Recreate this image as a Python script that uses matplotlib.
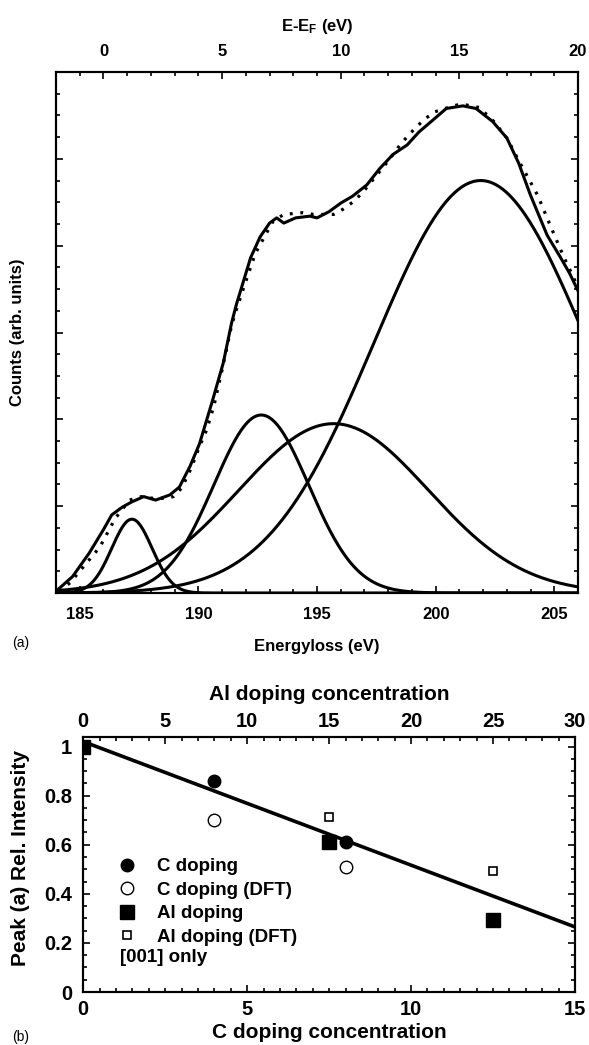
import numpy as np
import matplotlib
matplotlib.use('Agg')
import matplotlib.pyplot as plt
from matplotlib.ticker import MultipleLocator, NullFormatter, FormatStrFormatter
from matplotlib.lines import Line2D

plt.rcParams['font.family'] = ['Liberation Sans', 'DejaVu Sans']
plt.rcParams['font.weight'] = 'bold'
plt.rcParams['axes.labelweight'] = 'bold'
plt.rcParams['mathtext.default'] = 'regular'

# (a) EELS spectrum: measured curve (solid) and fit sum (dotted)
solid_x = [184.0, 184.7, 185.4, 186.0, 186.35, 186.8, 187.2, 187.7, 188.2, 188.8,
           189.2, 189.65, 190.05, 190.6, 191.05, 191.4, 191.6, 191.9, 192.2, 192.6,
           193.0, 193.3, 193.6, 194.1, 194.7, 195.0, 195.5, 196.0, 196.5, 197.1,
           197.65, 198.2, 198.8, 199.3, 199.9, 200.45, 201.15, 201.7, 202.4, 203.0,
           203.5, 204.0, 204.7, 205.25, 205.65, 206.0]
solid_y = [0.02, 0.19, 0.46, 0.73, 0.90, 0.99, 1.05, 1.11, 1.07, 1.13,
           1.22, 1.46, 1.72, 2.22, 2.65, 3.11, 3.32, 3.59, 3.86, 4.10,
           4.26, 4.32, 4.26, 4.32, 4.34, 4.32, 4.39, 4.49, 4.57, 4.70,
           4.89, 5.05, 5.16, 5.31, 5.45, 5.58, 5.61, 5.58, 5.43, 5.24,
           4.95, 4.58, 4.12, 3.87, 3.68, 3.48]
dot_x = [184.15, 184.6, 185.15, 185.85, 186.3, 186.5, 187.1, 187.6, 188.1, 188.5,
         188.95, 189.3, 189.7, 190.05, 190.35, 190.65, 191.0, 191.4, 191.55, 191.95,
         192.4, 192.9, 193.15, 193.6, 194.4, 194.85, 195.7, 196.1, 196.55, 196.95,
         197.3, 197.75, 198.1, 198.5, 198.85, 199.2, 199.55, 199.95, 200.4, 200.9,
         201.3, 201.85, 202.45, 203.0, 203.6, 204.3, 204.85, 205.4, 205.8, 206.0]
dot_y = [0.02, 0.12, 0.30, 0.53, 0.76, 0.86, 1.07, 1.11, 1.09, 1.09,
         1.11, 1.21, 1.44, 1.69, 1.88, 2.15, 2.57, 3.08, 3.22, 3.55,
         3.91, 4.16, 4.28, 4.36, 4.38, 4.36, 4.36, 4.42, 4.51, 4.62,
         4.74, 4.89, 5.01, 5.16, 5.27, 5.37, 5.46, 5.54, 5.58, 5.62,
         5.62, 5.59, 5.43, 5.24, 4.93, 4.58, 4.22, 3.87, 3.64, 3.51]
# gaussian fit components (center, height, width)
peak_center = [187.2, 192.65, 195.7, 201.9]
peak_height = [0.85, 2.05, 1.95, 4.75]
peak_sigma = [0.85, 2.0, 4.0, 4.5]

# (b) peak (a) relative intensity vs doping
c_dop_x = [4, 8]
c_dop_y = [0.86, 0.61]
c_dft_x = [4, 8]
c_dft_y = [0.70, 0.51]
al_dop_x = [0, 15, 25]      # Al concentration (top axis)
al_dop_y = [1.0, 0.61, 0.293]
al_dft_x = [15, 25]
al_dft_y = [0.714, 0.493]
fit_x = [0, 15]
fit_y = [1.02, 0.265]

fig = plt.figure(figsize=(5.89, 10.45), dpi=100)

def style_ticks(ax, size, pad, **kw):
    ax.tick_params(which='both', direction='in', width=1.2, pad=pad, labelsize=size, **kw)
    ax.tick_params(which='major', length=5)
    ax.tick_params(which='minor', length=3)
    for s in ax.spines.values():
        s.set_linewidth(1.5)

# ---------- panel (a) ----------
ax1 = fig.add_axes([56/589, 1-593/1045, 522/589, 521/1045])
E = np.linspace(184, 206, 500)
for c, h, s in zip(peak_center, peak_height, peak_sigma):
    ax1.plot(E, h*np.exp(-(E-c)**2/(2*s**2)), color='black', lw=2.2)
ax1.plot(dot_x, dot_y, color='black', lw=2.3, ls=(0, (0.9, 2.4)))
ax1.plot(solid_x, solid_y, color='black', lw=2.2)
ax1.set_xlim(184, 206)
ax1.set_ylim(0, 6)
ax1.xaxis.set_major_locator(MultipleLocator(5))
ax1.xaxis.set_minor_locator(MultipleLocator(1))
ax1.yaxis.set_major_locator(MultipleLocator(1))
ax1.yaxis.set_minor_locator(MultipleLocator(0.25))
ax1.yaxis.set_major_formatter(NullFormatter())
style_ticks(ax1, 12, 10, left=True, right=True, top=False)
ax1.set_xlabel('Energyloss (eV)', fontsize=12, va='center')
ax1.xaxis.set_label_coords(0.5, (593-647)/521)
ax1.set_ylabel('Counts (arb. units)', fontsize=12, va='center')
ax1.yaxis.set_label_coords((18-56)/522, 0.5)

ax1t = ax1.twiny()
ax1t.set_xlim(-2, 20)
ax1t.xaxis.set_major_locator(MultipleLocator(5))
ax1t.xaxis.set_minor_locator(MultipleLocator(1))
style_ticks(ax1t, 12, 9)
ax1t.set_xlabel('E-E$_\\mathregular{F}$ (eV)', fontsize=12, va='center')
ax1t.xaxis.set_label_coords(0.5, (593-27)/521)
fig.text(21/589, 1-643/1045, '(a)', fontsize=10, fontweight='normal', ha='center', va='center')

# ---------- panel (b) ----------
ax2 = fig.add_axes([83.3/589, 1-992/1045, 491.7/589, 255.3/1045])
ax2.plot(fit_x, fit_y, color='black', lw=2.6, zorder=2)
ax2.plot(c_dop_x, c_dop_y, 'o', ms=9, color='black', zorder=3)
ax2.plot(c_dft_x, c_dft_y, 'o', ms=9, mfc='white', mec='black', mew=1.0, zorder=3)
ax2.set_xlim(0, 15)
ax2.set_ylim(0, 1.04)
ax2.xaxis.set_major_locator(MultipleLocator(5))
ax2.xaxis.set_minor_locator(MultipleLocator(0.5))
ax2.yaxis.set_major_locator(MultipleLocator(0.2))
ax2.yaxis.set_minor_locator(MultipleLocator(0.05))
ax2.yaxis.set_major_formatter(FormatStrFormatter('%g'))
style_ticks(ax2, 14.5, 6, left=True, right=True, top=False)
ax2.tick_params(axis='y', pad=8)
ax2.set_xlabel('C doping concentration', fontsize=15, va='center')
ax2.xaxis.set_label_coords(0.5, (992-1032.7)/255.3)
ax2.set_ylabel('Peak (a) Rel. Intensity', fontsize=15, va='center')
ax2.yaxis.set_label_coords((20-83.3)/491.7, (992-858)/255.3)

ax2t = ax2.twiny()
ax2t.set_xlim(0, 30)
ax2t.plot(al_dop_x, al_dop_y, 's', ms=9.5, color='black', zorder=3)
ax2t.plot(al_dft_x, al_dft_y, 's', ms=6, mfc='white', mec='black', mew=1.2, zorder=3)
ax2t.xaxis.set_major_locator(MultipleLocator(5))
ax2t.xaxis.set_minor_locator(MultipleLocator(1))
style_ticks(ax2t, 14.5, 4)
ax2t.set_xlabel('Al doping concentration', fontsize=15, va='center')
ax2t.xaxis.set_label_coords(0.5, (992-695)/255.3)

handles = [
    Line2D([], [], ls='none', marker='o', ms=9, color='black'),
    Line2D([], [], ls='none', marker='o', ms=9, mfc='white', mec='black', mew=1.0),
    Line2D([], [], ls='none', marker='s', ms=9.5, color='black'),
    Line2D([], [], ls='none', marker='s', ms=6, mfc='white', mec='black', mew=1.2),
]
labels = ['C doping', 'C doping (DFT)', 'Al doping', 'Al doping (DFT)']
ax2t.legend(handles, labels, loc='upper left', bbox_to_anchor=(0.066, 0.524),
            frameon=False, fontsize=13.5, handlelength=1.2, handletextpad=1.0,
            labelspacing=0.34, borderpad=0, borderaxespad=0)
ax2t.text((120-83.3)/491.7, (992-958)/255.3, '[001] only', transform=ax2t.transAxes,
          fontsize=13.5, ha='left', va='center')
fig.text(21/589, 1-1036.7/1045, '(b)', fontsize=10, fontweight='normal', ha='center', va='center')

fig.savefig('out.png', dpi=100)
